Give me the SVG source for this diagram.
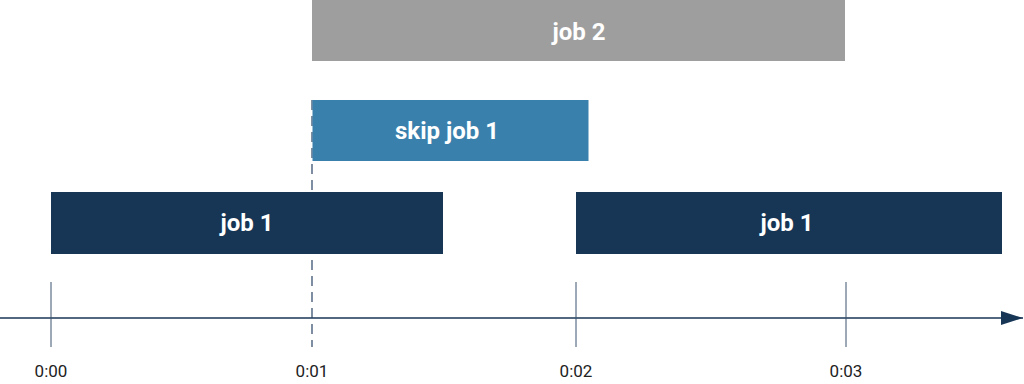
<svg xmlns="http://www.w3.org/2000/svg" width="1024" height="384" viewBox="0 0 1024 384">
<defs>
<style>
.lbl{font-family:Roboto,"Liberation Sans",sans-serif;font-weight:bold;font-size:24px;fill:#fff;text-anchor:middle;dominant-baseline:central}
.t{font-family:Roboto,"Liberation Sans",sans-serif;font-size:17px;fill:#222;text-anchor:middle}
.tick{stroke:#3c5370;stroke-width:1}
</style>
<marker id="arr" markerWidth="22" markerHeight="16" refX="22" refY="8" orient="auto" markerUnits="userSpaceOnUse">
<path d="M0,1 L22,8 L0,15 Z" fill="#173656"/>
</marker>
</defs>
<rect width="1024" height="384" fill="#fff"/>
<g id="connectors">
<line x1="0" y1="318" x2="1023" y2="318" stroke="#173656" stroke-width="1.5" marker-end="url(#arr)"/>
<line class="tick" x1="51" y1="282" x2="51" y2="347"/>
<line x1="312" y1="100" x2="312" y2="347" stroke="#2a4464" stroke-width="1.2" stroke-dasharray="10,6"/>
<line class="tick" x1="576" y1="282" x2="576" y2="347"/>
<line class="tick" x1="846" y1="282" x2="846" y2="347"/>
</g>
<g id="job2"><rect x="312" y="0" width="533" height="61" fill="#9e9e9e"/><text class="lbl" x="579" y="32">job 2</text></g>
<g id="skip"><rect x="312.5" y="100" width="276" height="61" fill="#3a80ad"/><text class="lbl" x="447" y="131">skip job 1</text></g>
<g id="job1a"><rect x="51" y="192" width="392" height="62" fill="#173656"/><text class="lbl" x="247" y="223">job 1</text></g>
<g id="job1b"><rect x="576" y="192" width="426" height="62" fill="#173656"/><text class="lbl" x="787" y="223">job 1</text></g>
<g id="labels">
<text class="t" x="51" y="377">0:00</text>
<text class="t" x="312" y="377">0:01</text>
<text class="t" x="576" y="377">0:02</text>
<text class="t" x="846" y="377">0:03</text>
</g>
</svg>
